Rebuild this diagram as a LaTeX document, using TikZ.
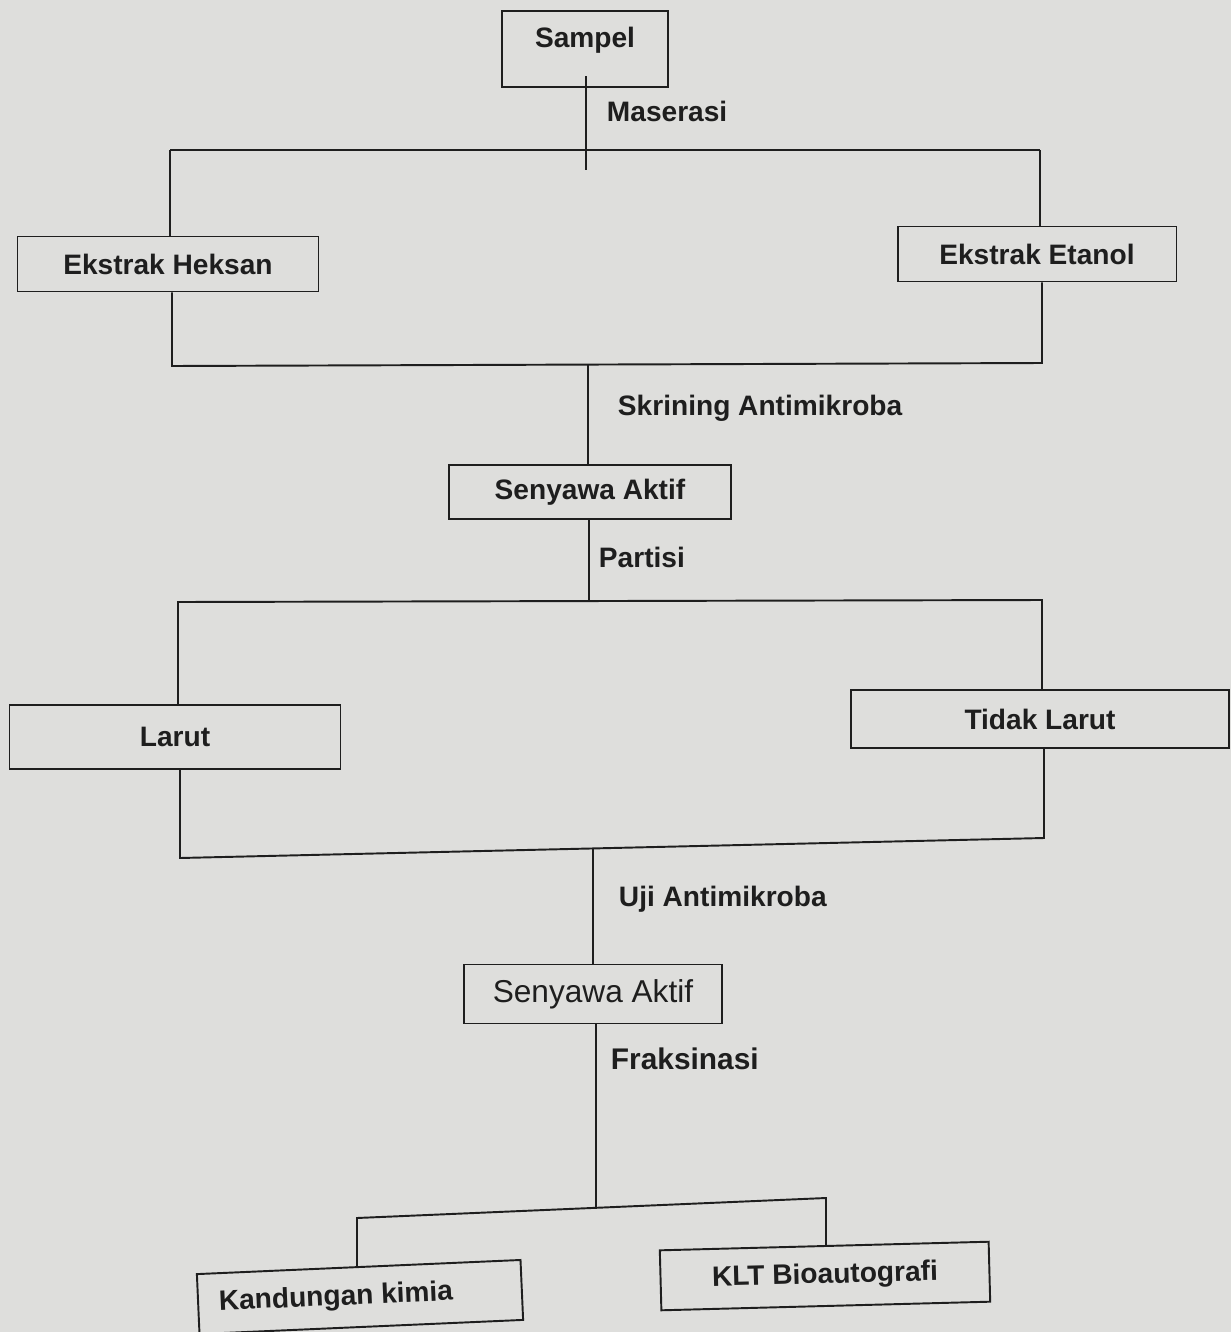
\documentclass[tikz,border=0pt]{standalone}
\usepackage{fontspec}
\setmainfont{Liberation Sans}
\definecolor{paper}{RGB}{222,222,220}
\definecolor{ink}{RGB}{30,30,30}

\begin{document}
\begin{tikzpicture}[
  x=0.02cm, y=-0.02cm, line width=1.1pt, color=ink,
  box/.style={draw=ink, line width=1.1pt, inner sep=0pt, text=ink, font=\bfseries\fontsize{16}{18}\selectfont},
  lbl/.style={anchor=west, inner sep=0pt, text=ink, font=\bfseries\fontsize{16}{18}\selectfont}
]
  \fill[paper] (0,0) rectangle (1231,1332);
  \useasboundingbox (0,0) rectangle (1231,1332);

  \node[box, anchor=north, minimum width=3.32cm, text height=0.74cm, text depth=0.78cm] (sampel) at (585,10) {Sampel};
  \node[box, minimum width=6.02cm, minimum height=1.1cm] (heksan) at (168,264) {Ekstrak Heksan};
  \node[box, minimum width=5.58cm, minimum height=1.1cm] (etanol) at (1037,254) {Ekstrak Etanol};
  \node[box, minimum width=5.64cm, minimum height=1.08cm] (aktif1) at (590,492) {Senyawa Aktif};
  \node[box, minimum width=6.62cm, minimum height=1.28cm] (larut) at (175,737) {Larut};
  \node[box, minimum width=7.56cm, minimum height=1.16cm] (tidak) at (1040,719) {Tidak Larut};
  \node[box, minimum width=5.16cm, minimum height=1.18cm, font=\fontsize{18}{20}\selectfont] (aktif2) at (593,994) {Senyawa Aktif};
  \node[box, minimum width=6.48cm, minimum height=1.2cm, rotate=2.5] (kimia) at (360,1297) {\hspace*{-0.96cm}Kandungan kimia};
  \node[box, minimum width=6.58cm, minimum height=1.2cm, rotate=1.5] (klt) at (825,1276) {KLT Bioautografi};

  \node[lbl] (maserasi) at (606,111) {Maserasi};
  \node[lbl] (skrining) at (617,408) {Skrining Antimikroba};
  \node[lbl] (partisi) at (598,557) {Partisi};
  \node[lbl] (uji) at (618,899) {Uji Antimikroba};
  \node[lbl, font=\bfseries\fontsize{17}{19}\selectfont] (fraksinasi) at (610,1059) {Fraksinasi};

  \coordinate (s0) at (586,76);
  \coordinate (s1) at (586,170);
  \coordinate (l1) at (170,150);
  \coordinate (r1) at (1040,150);
  \coordinate (l2) at (172,366);
  \coordinate (r2) at (1042,363);
  \coordinate (m2) at (588,365);
  \coordinate (m3) at (589,602);
  \coordinate (l3) at (178,602);
  \coordinate (r3) at (1042,600);
  \coordinate (l4) at (180,858);
  \coordinate (r4) at (1044,838);
  \coordinate (m4) at (593,848);
  \coordinate (l5) at (357,1218);
  \coordinate (r5) at (826,1198);
  \coordinate (m5) at (596,1208);

  \draw (s0) -- (s1);
  \draw (l1) -- (r1);
  \draw (l1) -- (heksan.north -| l1);
  \draw (r1) -- (etanol.north -| r1);
  \draw (heksan.south -| l2) -- (l2) -- (r2) -- (etanol.south -| r2);
  \draw (m2) -- (aktif1.north -| m2);
  \draw (aktif1.south -| m3) -- (m3);
  \draw (larut.north -| l3) -- (l3) -- (r3) -- (tidak.north -| r3);
  \draw (larut.south -| l4) -- (l4) -- (r4) -- (tidak.south -| r4);
  \draw (m4) -- (aktif2.north -| m4);
  \draw (aktif2.south -| m5) -- (m5);
  \draw (kimia.north -| l5) -- (l5) -- (r5) -- (klt.north -| r5);
\end{tikzpicture}
\end{document}
